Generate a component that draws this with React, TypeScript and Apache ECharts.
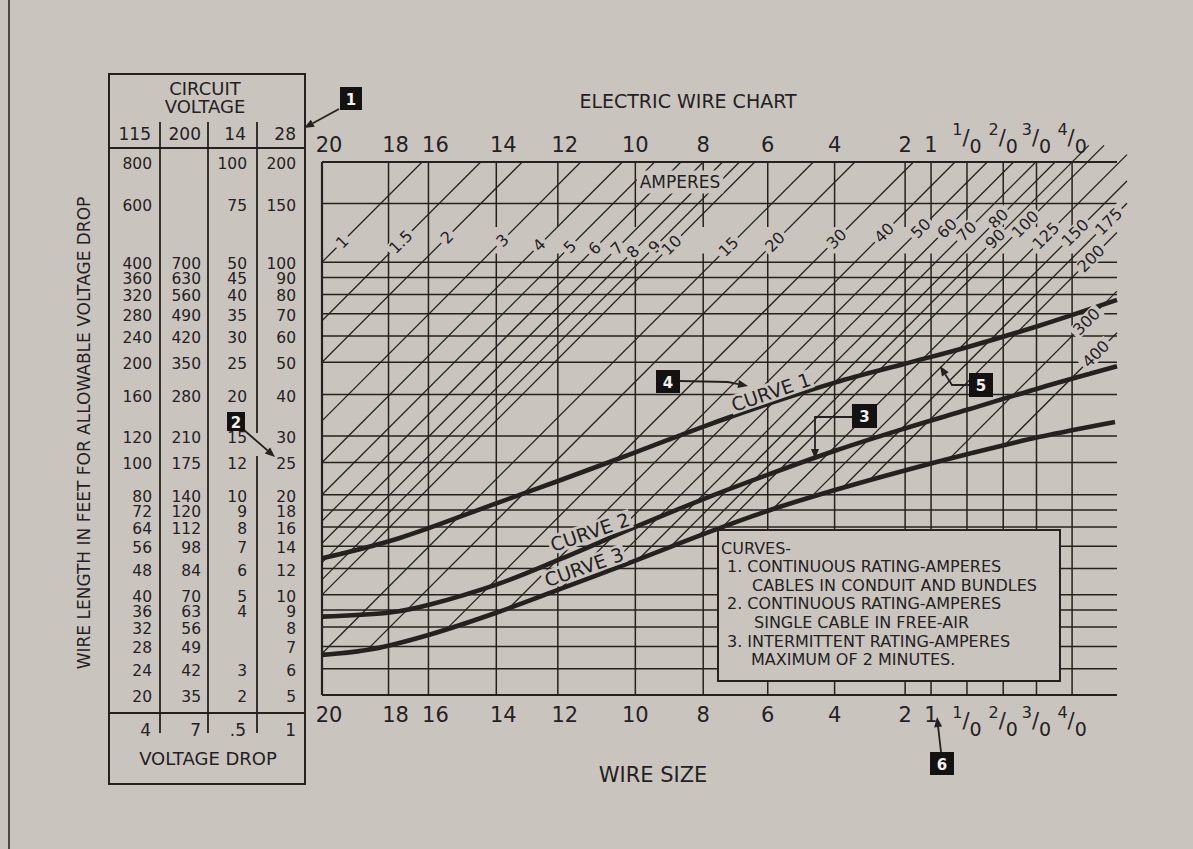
import React, { useEffect, useRef } from "react";
import * as echarts from "echarts";

// ---------------- data ----------------
const wireSizes = ["20", "18", "16", "14", "12", "10", "8", "6", "4", "2", "1", "1/0", "2/0", "3/0", "4/0"];
// position of each wire size along the chart's horizontal log scale (decades from AWG 20)
const wirePositions = [0, 0.2, 0.32, 0.524, 0.709, 0.942, 1.146, 1.34, 1.541, 1.753, 1.831, 1.939, 2.048, 2.148, 2.255];
const xEnd = 2.39;

// wire length rows (feet, 115 V column) = horizontal grid lines
const lengthRows = [800, 600, 400, 360, 320, 280, 240, 200, 160, 120, 100, 80, 72, 64, 56, 48, 40, 36, 32, 28, 24, 20];
const volts200 = ["", "", "700", "630", "560", "490", "420", "350", "280", "210", "175", "140", "120", "112", "98", "84", "70", "63", "56", "49", "42", "35"];
const volts14 = ["100", "75", "50", "45", "40", "35", "30", "25", "20", "15", "12", "10", "9", "8", "7", "6", "5", "4", "", "", "3", "2"];
const volts28 = ["200", "150", "100", "90", "80", "70", "60", "50", "40", "30", "25", "20", "18", "16", "14", "12", "10", "9", "8", "7", "6", "5"];
const circuitVoltages = ["115", "200", "14", "28"];
const voltageDrops = ["4", "7", ".5", "1"];

// ampere lines
const amperes = [1, 1.5, 2, 3, 4, 5, 6, 7, 8, 9, 10, 15, 20, 30, 40, 50, 60, 70, 80, 90, 100, 125, 150, 175, 200, 300, 400];
// wire length (ft) at which each ampere label sits on its line
const ampLabelLength = [460, 460, 475, 465, 450, 445, 440, 440, 430, 445, 450, 445, 460, 470, 490, 505, 505, 495, 540, 470, 520, 480, 490, 530, 410, 265, 212];
// the 1-ampere line crosses the AWG 20 line at 400 ft
const oneAmpLengthAtAwg20 = 400;

// curves (x = wire-scale position, value = wire length ft)
const curve1X = [0, 0.234, 0.526, 0.712, 0.944, 1.145, 1.341, 1.542, 1.752, 1.939, 2.158, 2.39];
const curve1Len = [51.5, 59.3, 75.5, 88.1, 107.4, 128, 150, 173.8, 198, 222, 258, 308];
const curve2X = [0, 0.204, 0.325, 0.526, 0.712, 0.944, 1.145, 1.341, 1.542, 1.752, 1.942, 2.158, 2.39];
const curve2Len = [34.4, 35.4, 37.4, 43.0, 51, 64.1, 77.5, 91.9, 108.4, 126.5, 144.2, 167.5, 194.5];
const curve3X = [0, 0.153, 0.325, 0.526, 0.715, 0.944, 1.145, 1.341, 1.542, 1.752, 1.942, 2.158, 2.384];
const curve3Len = [26.4, 27.5, 30.4, 35.4, 41.6, 50.8, 60.8, 71.6, 82.6, 94.6, 106, 119.4, 132.4];

const legendLines = [
  { t: "CURVES-", x: 721 },
  { t: "1. CONTINUOUS RATING-AMPERES", x: 727 },
  { t: "CABLES IN CONDUIT AND BUNDLES", x: 752 },
  { t: "2. CONTINUOUS RATING-AMPERES", x: 727 },
  { t: "SINGLE CABLE IN FREE-AIR", x: 754 },
  { t: "3. INTERMITTENT RATING-AMPERES", x: 727 },
  { t: "MAXIMUM OF 2 MINUTES.", x: 751 },
];

// ---------------- style ----------------
const PAPER = "#c9c5be";
const INK = "#25211e";
const FONT = '"DejaVu Sans", sans-serif';
const GAP_LOW = 425;
const GAP_HIGH = 510;
const LMIN = 20;
const LMAX = 800;

const lg = (v: number) => Math.log10(v);

function curve3LogAt(x: number) {
  if (x <= curve3X[0]) return lg(curve3Len[0]);
  for (let i = 1; i < curve3X.length; i++) {
    if (x <= curve3X[i]) {
      const t = (x - curve3X[i - 1]) / (curve3X[i] - curve3X[i - 1]);
      return lg(curve3Len[i - 1]) + t * (lg(curve3Len[i]) - lg(curve3Len[i - 1]));
    }
  }
  return lg(curve3Len[curve3Len.length - 1]);
}

function diagStart(c: number): number | null {
  if (c - curve3LogAt(0) >= 0) return 0;
  if (c + xEnd - curve3LogAt(xEnd) < 0) return null;
  let lo = 0, hi = xEnd;
  for (let k = 0; k < 60; k++) {
    const m = (lo + hi) / 2;
    if (c + m - curve3LogAt(m) < 0) lo = m; else hi = m;
  }
  return hi;
}

function wireLabel(v: number) {
  let best = 0, bd = Infinity;
  wirePositions.forEach((p, i) => { const d = Math.abs(p - v); if (d < bd) { bd = d; best = i; } });
  const s = wireSizes[best];
  const m = s.match(/^(\d)\/(\d)$/);
  if (m) return `{n|${m[1]}}{s|/}{d|${m[2]}}`;
  return best < 5 ? `{l|${s}}` : s;
}

function txt(x: number, y: number, text: string, size: number, o: any = {}) {
  const align = o.align || "center";
  return {
    type: "text", x, y, z: o.z || 30, rotation: o.rot || 0, silent: true,
    style: {
      text, fill: o.fill || INK, font: `${o.weight || "normal"} ${size}px ${FONT}`,
      align, verticalAlign: "middle", textAlign: align, textVerticalAlign: "middle",
      backgroundColor: o.bg, padding: o.pad,
    },
  };
}
function ln(x1: number, y1: number, x2: number, y2: number, w = 2) {
  return { type: "line", z: 30, silent: true, shape: { x1, y1, x2, y2 }, style: { stroke: INK, lineWidth: w } };
}
function arrow(points: number[][]) {
  const n = points.length;
  const [xa, ya] = points[n - 2];
  const [xb, yb] = points[n - 1];
  const ang = Math.atan2(yb - ya, xb - xa);
  const len = 10, wid = 4;
  const bx = xb - len * Math.cos(ang), by = yb - len * Math.sin(ang);
  const head = [[xb, yb], [bx + wid * Math.sin(ang), by - wid * Math.cos(ang)], [bx - wid * Math.sin(ang), by + wid * Math.cos(ang)]];
  return [
    { type: "polyline", z: 31, silent: true, shape: { points: [...points.slice(0, n - 1), [bx, by]] }, style: { stroke: INK, lineWidth: 1.8, fill: null } },
    { type: "polygon", z: 31, silent: true, shape: { points: head }, style: { fill: INK } },
  ];
}
function callout(x: number, y: number, w: number, h: number, label: string) {
  return [
    { type: "rect", z: 32, silent: true, shape: { x, y, width: w, height: h }, style: { fill: "#141210" } },
    txt(x + w / 2, y + h / 2 + 1, label, 15, { fill: "#f2f0ec", weight: "bold", z: 34 }),
  ];
}

function buildOption() {
  const axisCommon = {
    type: "value", min: 0, max: xEnd,
    axisLine: { show: false }, axisTick: { show: false }, splitLine: { show: false },
  };
  const rich = {
    l: { fontSize: 21, fontFamily: FONT, color: INK, padding: [0, 0, 0, 14] },
    n: { fontSize: 16, fontFamily: FONT, color: INK, verticalAlign: "top", lineHeight: 17 },
    s: { fontSize: 21, fontFamily: FONT, color: INK, verticalAlign: "middle", lineHeight: 34 },
    d: { fontSize: 19, fontFamily: FONT, color: INK, verticalAlign: "bottom", lineHeight: 20 },
  };
  const labelCommon = {
    customValues: wirePositions, formatter: (v: number) => wireLabel(v),
    color: INK, fontSize: 21, fontFamily: FONT, rich,
  };

  const series: any[] = [
    {
      type: "custom", name: "rows", z: 1, silent: true, clip: false,
      data: lengthRows.map((L) => [0, L]),
      renderItem: (params: any, api: any) => {
        const i = params.dataIndex;
        const L = lengthRows[i];
        const a = api.coord([0, L]);
        const b = api.coord([xEnd, L]);
        const edge = i === 0 || i === lengthRows.length - 1;
        return { type: "line", shape: { x1: a[0], y1: a[1], x2: b[0], y2: b[1] }, style: { stroke: INK, lineWidth: edge ? 2.2 : 1.5 } };
      },
    },
    {
      type: "custom", name: "wires", z: 1, silent: true, clip: false,
      data: wirePositions.map((x) => [x, LMIN]),
      renderItem: (params: any, api: any) => {
        const i = params.dataIndex;
        const x = wirePositions[i];
        const segs = i >= 3 ? [[LMIN, GAP_LOW], [GAP_HIGH, LMAX]] : [[LMIN, LMAX]];
        return {
          type: "group",
          children: segs.map(([l1, l2]) => {
            const a = api.coord([x, l1]);
            const b = api.coord([x, l2]);
            return { type: "line", shape: { x1: a[0], y1: a[1], x2: b[0], y2: b[1] }, style: { stroke: INK, lineWidth: i === 0 ? 2.2 : 1.5 } };
          }),
        };
      },
    },
    {
      type: "custom", name: "ampere lines", z: 2, silent: true, clip: false,
      data: amperes.map((I, i) => [lg(ampLabelLength[i]) - lg(oneAmpLengthAtAwg20 / I), ampLabelLength[i]]),
      renderItem: (params: any, api: any) => {
        const I = amperes[params.dataIndex];
        const c = lg(oneAmpLengthAtAwg20 / I);
        const x0 = diagStart(c);
        if (x0 === null) return undefined;
        let x1 = Math.min(xEnd, lg(LMAX) - c);
        // lines near the top-right corner run slightly past the frame, as printed
        if (x1 > 2.25 && x1 < xEnd && I <= 100) x1 += 0.05;
        else if (x1 >= xEnd && I >= 125 && I <= 175) x1 += 0.03;
        const a = api.coord([x0, Math.pow(10, c + x0)]);
        const b = api.coord([x1, Math.pow(10, c + x1)]);
        return { type: "line", shape: { x1: a[0], y1: a[1], x2: b[0], y2: b[1] }, style: { stroke: INK, lineWidth: 1.3 } };
      },
    },
    ...[
      [curve1X, curve1Len],
      [curve2X, curve2Len],
      [curve3X, curve3Len],
    ].map(([xs, ls], k) => ({
      type: "line", name: `Curve ${k + 1}`, z: 3, silent: true, smooth: 0.35, symbol: "none",
      data: (xs as number[]).map((x, i) => [x, (ls as number[])[i]]),
      lineStyle: { color: INK, width: 4.6 },
    })),
    {
      type: "custom", name: "ampere labels", z: 5, silent: true, clip: false,
      data: amperes.map((I, i) => [lg(ampLabelLength[i]) - lg(oneAmpLengthAtAwg20 / I), ampLabelLength[i]]),
      renderItem: (params: any, api: any) => {
        const i = params.dataIndex;
        const I = amperes[i];
        const L = ampLabelLength[i];
        const x = lg(L) - lg(oneAmpLengthAtAwg20 / I);
        const p = api.coord([x, L]);
        return {
          type: "text", x: p[0], y: p[1], rotation: Math.PI / 4,
          style: { text: String(I), fill: INK, font: `16px ${FONT}`, align: "center", verticalAlign: "middle", lineHeight: 15, backgroundColor: PAPER, padding: [0, 3] },
        };
      },
    },
    {
      type: "custom", name: "length table", z: 5, silent: true, clip: false,
      data: lengthRows.map((L) => [0, L]),
      renderItem: (params: any, api: any) => {
        const i = params.dataIndex;
        const y = api.coord([0, lengthRows[i]])[1] + 2;
        const cols = [String(lengthRows[i]), volts200[i], volts14[i], volts28[i]];
        const right = [152, 201, 247, 296];
        return {
          type: "group",
          children: cols.map((t, k) => ({
            type: "text", x: right[k], y,
            style: { text: t, fill: INK, font: `15.5px ${FONT}`, lineHeight: 13, align: "right", verticalAlign: "middle" },
          })),
        };
      },
    },
  ];

  const colRight = [151, 201, 246, 296];
  const elements: any[] = [
    // page edge
    { type: "line", z: 30, silent: true, shape: { x1: 9, y1: 0, x2: 9, y2: 849 }, style: { stroke: "#4d4945", lineWidth: 2 } },
    // table frame
    { type: "rect", z: 30, silent: true, shape: { x: 109, y: 74, width: 196, height: 710 }, style: { fill: null, stroke: INK, lineWidth: 2 } },
    ln(109, 148, 305, 148),
    ln(109, 713, 305, 713),
    ln(160, 122, 160, 733, 1.8),
    ln(208, 122, 208, 733, 1.8),
    ln(257, 122, 257, 433, 1.8),
    ln(257, 456, 257, 733, 1.8),
    txt(205, 88, "CIRCUIT", 18),
    txt(205, 106, "VOLTAGE", 18),
    ...circuitVoltages.map((t, k) => txt(colRight[k], 134, t, 17, { align: "right" })),
    ...voltageDrops.map((t, k) => txt(colRight[k], 730, t, 17, { align: "right" })),
    txt(208, 758, "VOLTAGE DROP", 18),
    // titles
    txt(84, 433, "WIRE LENGTH IN FEET FOR ALLOWABLE VOLTAGE DROP", 17, { rot: Math.PI / 2 }),
    txt(688, 101, "ELECTRIC WIRE CHART", 19),
    txt(653, 775, "WIRE SIZE", 21),
    txt(680, 182, "AMPERES", 17, { bg: PAPER, pad: [3, 3] }),
    // curve labels
    txt(771, 392, "CURVE 1", 19, { rot: (19 * Math.PI) / 180, bg: PAPER, pad: [0, 2] }),
    txt(590, 532, "CURVE 2", 19, { rot: (19 * Math.PI) / 180, bg: PAPER, pad: [0, 2] }),
    txt(584, 567, "CURVE 3", 19, { rot: (19.5 * Math.PI) / 180, bg: PAPER, pad: [0, 2] }),
    // legend box
    { type: "rect", z: 30, silent: true, shape: { x: 718, y: 530, width: 342, height: 151 }, style: { fill: PAPER, stroke: INK, lineWidth: 2 } },
    ...legendLines.map((l, i) => txt(l.x, 548 + i * 18.6, l.t, 16, { align: "left" })),
    // callouts
    ...callout(340, 87, 22, 23, "1"),
    ...arrow([[339, 109], [304, 128]]),
    ...callout(227, 412, 18, 19, "2"),
    ...arrow([[244, 430], [275, 457]]),
    ...callout(852, 404, 25, 24, "3"),
    ...arrow([[852, 417], [815, 417], [815, 459]]),
    ...callout(656, 370, 24, 23, "4"),
    ...arrow([[680, 381], [728, 382], [748, 386]]),
    ...callout(969, 373, 24, 24, "5"),
    ...arrow([[969, 385], [952, 385], [940, 366]]),
    ...callout(930, 752, 24, 23, "6"),
    ...arrow([[941, 752], [937, 717]]),
  ];

  return {
    animation: false,
    backgroundColor: PAPER,
    textStyle: { fontFamily: FONT },
    grid: { left: 322, top: 162, width: 795, height: 533 },
    xAxis: [
      { ...axisCommon, position: "bottom", axisLabel: { ...labelCommon, margin: 9 } },
      { ...axisCommon, position: "top", axisLabel: { ...labelCommon, margin: 7 } },
    ],
    yAxis: {
      type: "log", logBase: 10, min: LMIN, max: LMAX,
      axisLine: { show: false }, axisTick: { show: false }, axisLabel: { show: false }, splitLine: { show: false },
    },
    series,
    graphic: { elements },
  };
}

export default function App() {
  const ref = useRef<HTMLDivElement>(null);
  useEffect(() => {
    const chart = echarts.init(ref.current!, null, { renderer: "svg" });
    chart.setOption(buildOption() as any);
    return () => chart.dispose();
  }, []);
  return <div ref={ref} style={{ position: "fixed", left: 0, top: 0, width: 1193, height: 849 }} />;
}
